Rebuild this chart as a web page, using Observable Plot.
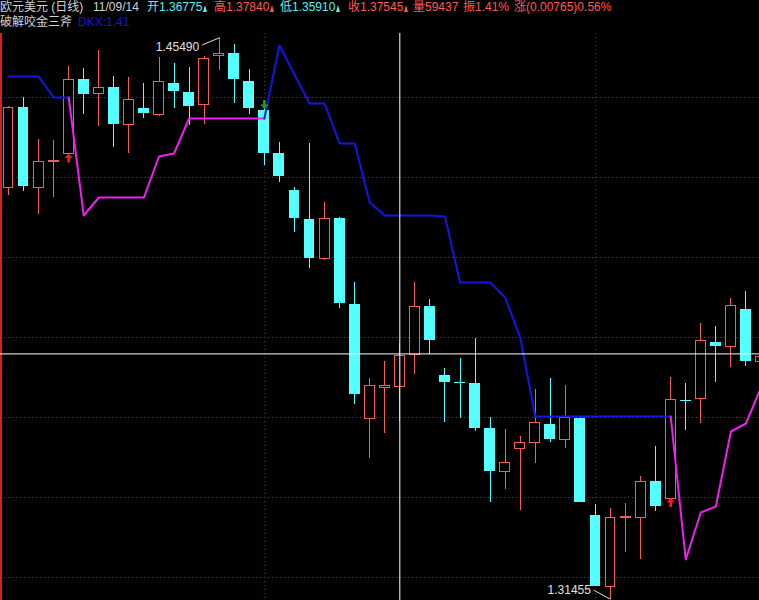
<!DOCTYPE html>
<html><head><meta charset="utf-8">
<script src="https://cdn.jsdelivr.net/npm/d3@7"></script>
<script src="https://cdn.jsdelivr.net/npm/@observablehq/plot@0.6"></script>
<style>
html,body{margin:0;padding:0;background:#000;overflow:hidden;width:759px;height:600px}
#hdr{position:relative;height:33px;font-family:"Liberation Sans","Noto Sans CJK SC",sans-serif;font-size:12px;line-height:14px}
#hdr span.p{position:absolute;white-space:nowrap}
.tri{display:inline-block;width:0;height:0;border-left:2px solid transparent;border-right:2px solid transparent;border-bottom:7px solid currentColor;margin-left:1px;vertical-align:-1px}
#chart svg{display:block}
</style></head>
<body>
<div id="hdr"></div>
<div id="chart"></div>
<script>
// ---- data ----
const opens = [1.4175, 1.4375, 1.4175, 1.42388, 1.426, 1.4445, 1.441, 1.4425, 1.43325, 1.43725,
 1.43575, 1.4435, 1.44125, 1.43825, 1.4505, 1.451, 1.444, 1.43675, 1.426, 1.41675,
 1.4095, 1.39975, 1.40975, 1.38825, 1.35975, 1.3675, 1.36775, 1.37575, 1.38775, 1.3705,
 1.36863, 1.3685, 1.35725, 1.3465, 1.35225, 1.35375, 1.35825, 1.3545, 1.35975, 1.3355,
 1.31775, 1.33488, 1.335, 1.344, 1.33975, 1.36425, 1.36475, 1.37875, 1.37775, 1.387,
 1.374];
const highs = [1.43775, 1.44, 1.4295, 1.42925, 1.44775, 1.44725, 1.45175, 1.44525, 1.445, 1.4435,
 1.45, 1.4485, 1.4475, 1.45025, 1.4549, 1.45325, 1.447, 1.43725, 1.42875, 1.4175,
 1.4285, 1.41375, 1.41, 1.39375, 1.36975, 1.374, 1.3784, 1.39375, 1.3895, 1.37225,
 1.37475, 1.37975, 1.36, 1.357, 1.35525, 1.367, 1.36975, 1.368, 1.36, 1.33825,
 1.33725, 1.3385, 1.34525, 1.35275, 1.37, 1.3685, 1.3835, 1.38275, 1.38975, 1.3915,
 1.37625];
const lows = [1.4155, 1.4165, 1.41075, 1.415, 1.4259, 1.43575, 1.43275, 1.4275, 1.426, 1.43475,
 1.43525, 1.43725, 1.433, 1.43325, 1.44675, 1.4385, 1.43575, 1.423, 1.41875, 1.40625,
 1.39725, 1.39925, 1.38725, 1.36325, 1.34975, 1.356, 1.3591, 1.37075, 1.37575, 1.35875,
 1.35975, 1.3565, 1.33875, 1.342, 1.33675, 1.3485, 1.35375, 1.35225, 1.33875, 1.31775,
 1.31455, 1.32625, 1.3245, 1.3365, 1.33975, 1.35675, 1.3585, 1.36875, 1.3725, 1.37275,
 1.373];
const closes = [1.4375, 1.41775, 1.424, 1.42413, 1.4445, 1.44075, 1.4425, 1.43325, 1.4395, 1.436,
 1.444, 1.4415, 1.43775, 1.44975, 1.45088, 1.4445, 1.43725, 1.426, 1.42025, 1.40975,
 1.39975, 1.40975, 1.3885, 1.36575, 1.368, 1.368, 1.37545, 1.38775, 1.37925, 1.36875,
 1.36838, 1.35725, 1.3465, 1.34875, 1.35375, 1.35875, 1.3545, 1.36, 1.33875, 1.31775,
 1.335, 1.33513, 1.344, 1.33775, 1.3645, 1.364, 1.37925, 1.37775, 1.388, 1.374,
 1.37525];
const dkx = [1.44525, 1.44525, 1.44525, 1.44, 1.44, 1.4105, 1.415, 1.415, 1.415, 1.415,
 1.42525, 1.426, 1.43475, 1.43475, 1.43475, 1.43475, 1.43475, 1.43475, 1.453, 1.44575,
 1.4385, 1.4385, 1.4285, 1.4285, 1.41375, 1.4105, 1.4105, 1.4105, 1.4105, 1.41025,
 1.39375, 1.39375, 1.39375, 1.39, 1.38, 1.36025, 1.36025, 1.36025, 1.36025, 1.36025,
 1.36025, 1.36025, 1.36025, 1.36025, 1.36025, 1.3245, 1.33625, 1.33775, 1.3565, 1.3585,
 1.3675];
// "d" = line above price (blue), "u" = line below price (magenta)
const dkxTrend = ["d","d","d","d","d","u","u","u","u","u",
 "u","u","u","u","u","u","u","u","d","d",
 "d","d","d","d","d","d","d","d","d","d",
 "d","d","d","d","d","d","d","d","d","d",
 "d","d","d","d","d","u","u","u","u","u",
 "u"];
const buySignals = [5, 45];
const sellSignals = [18];
const gridPrices = [1.32, 1.34, 1.36, 1.38, 1.40, 1.42, 1.44];
const gridBars = [18, 40];
const cursorBar = 27;
const cursorPrice = 1.3759;
const symbolName = "欧元美元 (日线)";
const cursorDate = "11/09/14";
const ohlcLabels = ["开", "高", "低", "收"];
const volume = 59437;
const amplitude = "1.41%";
const change = "(0.00765)0.56%";
const indicatorName = "破解咬金三斧";

// ---- colours ----
const RED = "#f25c5c", CYAN = "#54ffff", BLUE = "#1414e6", MAG = "#f01ef0";
const GRID = "#9a1c1c", TXT = "#d2d2d2", TRED = "#ff5a5a", TCYAN = "#54f0f0";

// ---- header ----
const hdr = document.getElementById("hdr");
function span(left, top, html) {
  const s = document.createElement("span");
  s.className = "p"; s.style.left = left + "px"; s.style.top = top + "px";
  s.innerHTML = html; hdr.appendChild(s);
}
const ci = cursorBar - 1;
const ohlcVals = [opens[ci], highs[ci], lows[ci], closes[ci]];
const ohlcCols = [TCYAN, TRED, TCYAN, TRED];
const ohlcLeft = [147, 214, 280, 348];
const f5 = d3.format(".5f");
span(0, 0, `<span style="color:${TXT}">${symbolName}</span>`);
span(93, 0, `<span style="color:${TXT}">${cursorDate}</span>`);
ohlcLabels.forEach((lab, k) => {
  span(ohlcLeft[k], 0, `<span style="color:${ohlcCols[k]}">${lab}${f5(ohlcVals[k])}<span class="tri"></span></span>`);
});
span(413, 0, `<span style="color:${TRED}">量${volume}</span>`);
span(463, 0, `<span style="color:${TRED}">振${amplitude}</span>`);
span(514, 0, `<span style="color:${TRED}">涨${change}</span>`);
span(0, 15, `<span style="color:${TXT}">${indicatorName}</span>`);
span(78, 15, `<span style="color:${BLUE}">DKX:${d3.format(".2f")(dkx[ci])}</span>`);

// ---- chart data ----
const candles = opens.map((o, k) => ({i: k + 1, o, h: highs[k], l: lows[k], c: closes[k], up: closes[k] >= opens[k]}));
const upC = candles.filter(d => d.up), dnC = candles.filter(d => !d.up);
const runs = [];
let run = 0;
dkx.forEach((v, k) => {
  if (k > 0 && dkxTrend[k] !== dkxTrend[k - 1]) {
    run++;
    runs.push({i: k, v: dkx[k - 1], run, t: dkxTrend[k]});
  }
  runs.push({i: k + 1, v, run, t: dkxTrend[k]});
});
const hiK = d3.maxIndex(highs), loK = d3.minIndex(lows);
const hi = {i: hiK + 1, v: highs[hiK]}, lo = {i: loK + 1, v: lows[loK]};

const upArrow = {draw(ctx) {
  ctx.moveTo(0, -4.5); ctx.lineTo(4, 0); ctx.lineTo(1.3, 0); ctx.lineTo(1.3, 4.5);
  ctx.lineTo(-1.3, 4.5); ctx.lineTo(-1.3, 0); ctx.lineTo(-4, 0); ctx.closePath();
}};
const downArrow = {draw(ctx) {
  ctx.moveTo(0, 4.5); ctx.lineTo(4, 0); ctx.lineTo(1.3, 0); ctx.lineTo(1.3, -4.5);
  ctx.lineTo(-1.3, -4.5); ctx.lineTo(-1.3, 0); ctx.lineTo(-4, 0); ctx.closePath();
}};

const xDom = [0.4684, 50.9];
const chart = Plot.plot({
  width: 759, height: 567,
  marginTop: 0, marginRight: 0, marginBottom: 0, marginLeft: 0,
  style: {background: "#000", overflow: "hidden"},
  x: {type: "linear", domain: xDom, axis: null},
  y: {type: "linear", domain: [1.31425, 1.456], axis: null},
  marks: [
    Plot.ruleY(gridPrices, {stroke: GRID, strokeDasharray: "1,3"}),
    Plot.ruleX(gridBars, {stroke: GRID, strokeDasharray: "1,3"}),
    Plot.ruleX([xDom[0]], {stroke: "#d42020", strokeWidth: 2, dx: 0.5}),
    Plot.ruleX(candles, {x: "i", y1: "l", y2: "h", stroke: d => d.up ? RED : CYAN, shapeRendering: "crispEdges"}),
    Plot.rect(dnC, {x1: d => d.i - 0.36, x2: d => d.i + 0.36, y1: "o", y2: "c", fill: CYAN, shapeRendering: "crispEdges"}),
    Plot.rect(upC, {x1: d => d.i - 0.33, x2: d => d.i + 0.33, y1: "o", y2: "c", fill: "#000", stroke: RED, shapeRendering: "crispEdges"}),
    Plot.line(runs, {x: "i", y: "v", z: "run", stroke: d => d.t === "d" ? BLUE : MAG, strokeWidth: 2}),
    Plot.dot(buySignals, {x: d => d, y: d => lows[d - 1], dy: 4, symbol: upArrow, fill: "#ff1a1a", stroke: "none"}),
    Plot.dot(sellSignals, {x: d => d, y: d => highs[d - 1], dy: -4, symbol: downArrow, fill: "#1aa01a", stroke: "none"}),
    Plot.ruleX([cursorBar], {stroke: "#ffffff"}),
    Plot.ruleY([cursorPrice], {stroke: "#ffffff"}),
    Plot.link([hi], {x1: "i", y1: "v", x2: d => d.i - 1.13, y2: d => d.v - 0.00175, stroke: "#e0e0e0"}),
    Plot.text([hi], {x: d => d.i - 1.13, y: d => d.v - 0.00175, text: d => f5(d.v), textAnchor: "end", dx: -3, dy: 2, fill: "#e0e0e0", fontSize: 12, fontFamily: "Liberation Sans"}),
    Plot.link([lo], {x1: "i", y1: "v", x2: d => d.i - 1.1, y2: d => d.v + 0.00225, stroke: "#e0e0e0"}),
    Plot.text([lo], {x: d => d.i - 1.1, y: d => d.v + 0.00225, text: d => f5(d.v), textAnchor: "end", dx: -3, fill: "#e0e0e0", fontSize: 12, fontFamily: "Liberation Sans"})
  ]
});
document.getElementById("chart").appendChild(chart);
</script>
</body></html>
